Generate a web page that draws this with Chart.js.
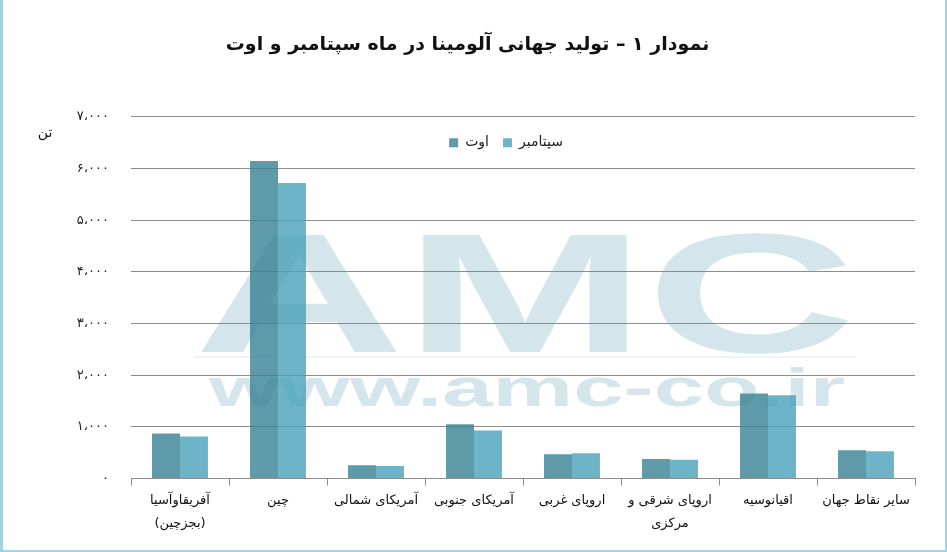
<!DOCTYPE html>
<html lang="fa">
<head>
<meta charset="utf-8">
<title>تولید جهانی آلومینا</title>
<script src="https://cdn.jsdelivr.net/npm/chart.js@4.4.1/dist/chart.umd.min.js"></script>
<style>
  html, body { margin: 0; padding: 0; background: #fff; }
  #wrap { width: 947px; height: 552px; position: relative; }
</style>
</head>
<body>
<div id="wrap"><canvas id="chart"></canvas></div>
<script>
'use strict';

const chartTitle = 'نمودار ۱ – تولید جهانی آلومینا در ماه سپتامبر و اوت';
const unitLabel = 'تن';
const regions = [
	['آفریقاوآسیا', '(بجزچین)'],
	'چین',
	'آمریکای شمالی',
	'آمریکای جنوبی',
	'اروپای غربی',
	['اروپای شرقی و', 'مرکزی'],
	'اقیانوسیه',
	'سایر نقاط جهان'
];
const seriesNames = ['اوت', 'سپتامبر'];
const augustValues = [870, 6145, 255, 1050, 470, 375, 1645, 545];
const septemberValues = [815, 5720, 240, 930, 490, 365, 1610, 525];
const yTickLabels = ['۰', '۱،۰۰۰', '۲،۰۰۰', '۳،۰۰۰', '۴،۰۰۰', '۵،۰۰۰', '۶،۰۰۰', '۷،۰۰۰'];
const watermarkBig = 'AMC';
const watermarkSmall = 'www.amc-co.ir';

const font = '"DejaVu Sans", sans-serif';

// stretch a line of text horizontally to fill a given width
function drawStretched( ctx, text, x, y, w ) {
	const natural = ctx.measureText( text ).width;
	ctx.save();
	ctx.translate( x, y );
	ctx.scale( w / natural, 1 );
	ctx.fillText( text, 0, 0 );
	ctx.restore();
}

const backdrop = {
	id: 'backdrop',
	beforeDraw: function ( chart ) {
		const { ctx, width, height } = chart;
		ctx.save();
		ctx.fillStyle = '#ffffff';
		ctx.fillRect( 0, 0, width, height );

		// watermark
		ctx.fillStyle = '#d4e5eb';
		ctx.textBaseline = 'alphabetic';
		ctx.textAlign = 'left';
		ctx.font = 'bold 170px "Liberation Sans"';
		drawStretched( ctx, watermarkBig, 194, 352, 662 );
		ctx.font = 'bold 54px "Liberation Sans"';
		drawStretched( ctx, watermarkSmall, 209, 406, 636 );
		ctx.fillStyle = '#eef4f6';
		ctx.fillRect( 194, 356, 662, 2 );

		// frame
		ctx.fillStyle = '#a3d3e2';
		ctx.fillRect( 0, 0, 3, height );
		ctx.fillRect( width - 2, 0, 2, height );
		ctx.fillRect( 0, height - 2, width, 2 );
		ctx.restore();
	},
	afterLayout: function ( chart ) {
		// legend sits inside the plot, under the top grid line
		const legend = chart.legend;
		const area = chart.chartArea;
		const dy = area.top + 5 - legend.top;
		legend.top += dy;
		legend.bottom += dy;
		legend.left = area.left - 34;
		legend.right = area.right;
	},
	afterDraw: function ( chart ) {
		const ctx = chart.ctx;
		ctx.save();
		ctx.fillStyle = '#111';
		ctx.font = '14px ' + font;
		ctx.textAlign = 'center';
		ctx.textBaseline = 'middle';
		ctx.fillText( unitLabel, 45, 133 );
		ctx.restore();
	}
};

new Chart( document.getElementById( 'chart' ), {
	type: 'bar',
	data: {
		labels: regions,
		datasets: [
			{
				label: seriesNames[ 0 ],
				data: augustValues,
				backgroundColor: 'rgba(55, 129, 148, 0.8)',
				borderWidth: 0,
				categoryPercentage: 0.571,
				barPercentage: 1,
			},
			{
				label: seriesNames[ 1 ],
				data: septemberValues,
				backgroundColor: 'rgba(72, 161, 186, 0.8)',
				borderWidth: 0,
				categoryPercentage: 0.571,
				barPercentage: 1,
			},
		],
	},
	options: {
		responsive: true,
		maintainAspectRatio: false,
		animation: false,
		layout: { padding: { left: 20, right: 32, top: 0, bottom: 13 } },
		plugins: {
			title: {
				display: true,
				text: chartTitle,
				color: '#111',
				font: { family: font, size: 19, weight: 'bold' },
				padding: { top: 34, bottom: 22 },
			},
			legend: {
				position: 'top',
				labels: {
					boxWidth: 9,
					boxHeight: 9,
					padding: 14,
					color: '#222',
					font: { family: font, size: 14 },
				},
			},
			tooltip: { enabled: false },
		},
		scales: {
			x: {
				grid: {
					display: true,
					drawOnChartArea: false,
					drawTicks: true,
					tickLength: 7,
					color: '#8c8c8c',
				},
				border: { display: true, color: '#8c8c8c' },
				ticks: {
					color: '#111',
					padding: 4,
					maxRotation: 0,
					autoSkip: false,
					font: { family: font, size: 13, lineHeight: 1.75 },
				},
			},
			y: {
				min: 0,
				max: 7000,
				afterFit: function ( scale ) {
					scale.width = 111;
				},
				grid: { color: '#8c8c8c', drawTicks: false },
				border: { display: false },
				ticks: {
					stepSize: 1000,
					padding: 22,
					color: '#222',
					font: { family: font, size: 13 },
					callback: function ( value ) {
						return yTickLabels[ value / 1000 ];
					},
				},
			},
		},
	},
	plugins: [ backdrop ],
} );
</script>
</body>
</html>
